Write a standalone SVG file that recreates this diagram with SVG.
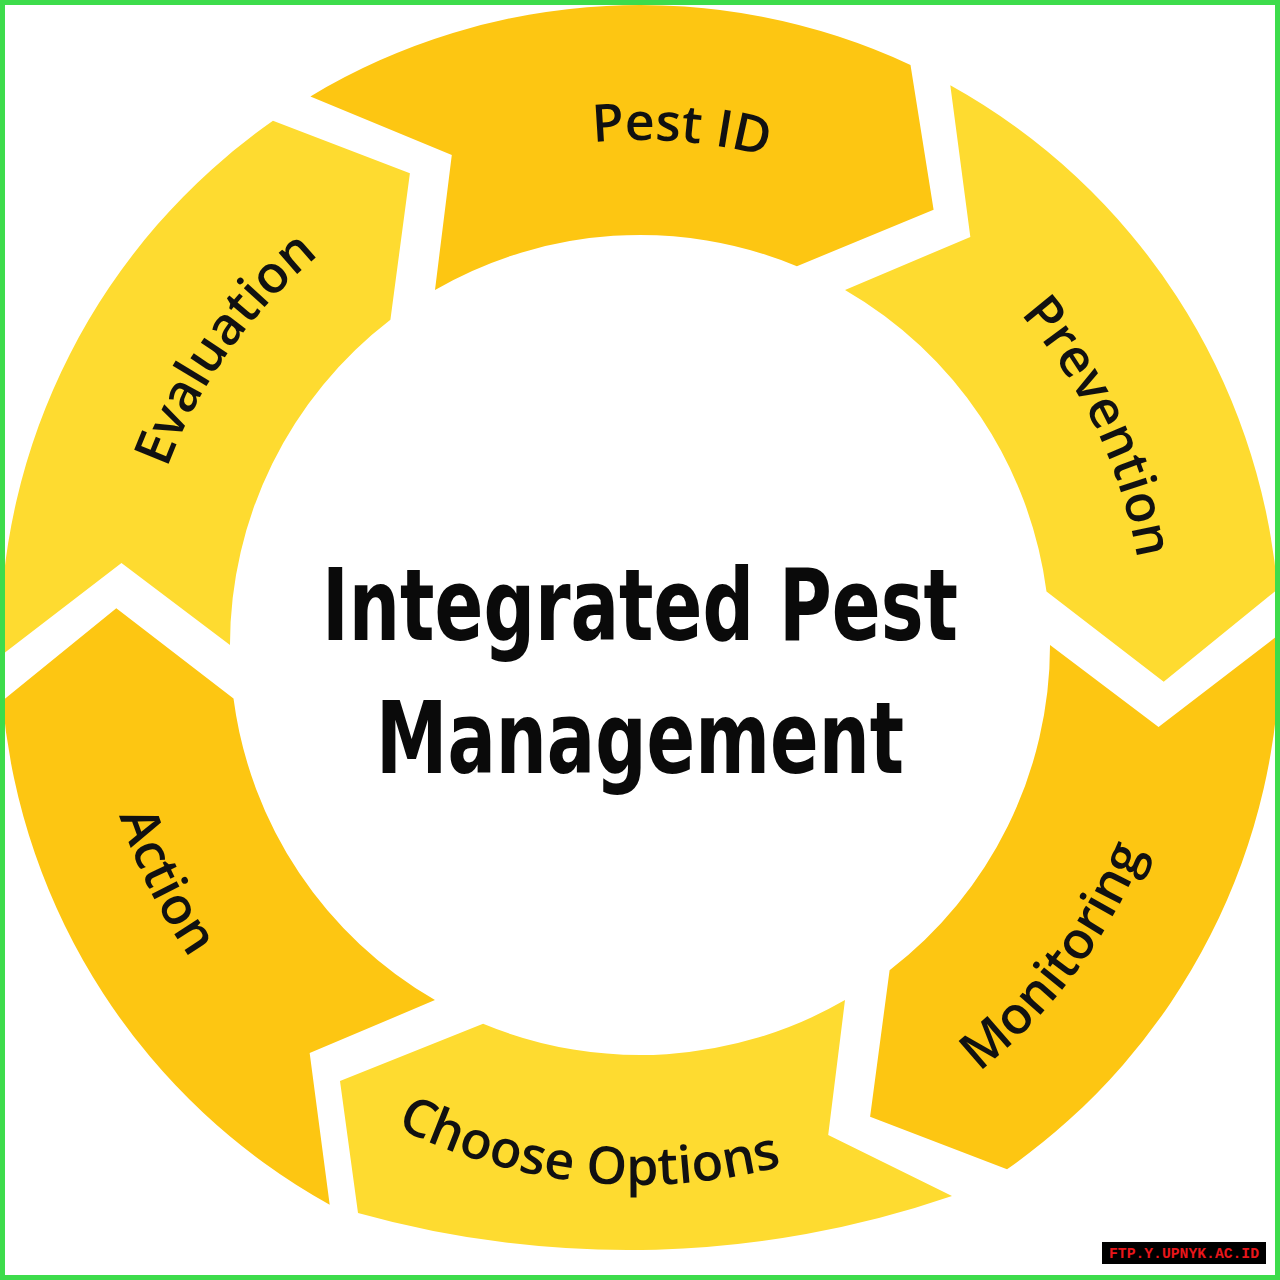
<svg xmlns="http://www.w3.org/2000/svg" xmlns:xlink="http://www.w3.org/1999/xlink" width="1280" height="1280" viewBox="0 0 1280 1280">
<style>
.dark{fill:#FDC612}
.light{fill:#FEDB30}
.lbl{font-family:"Open Sans","Liberation Sans",sans-serif;font-weight:600;font-size:52px;fill:#111}
.title{font-family:"DejaVu Sans","Liberation Sans",sans-serif;font-weight:bold;font-stretch:condensed;font-size:100px;fill:#0a0a0a}
.wm{font-family:"Liberation Mono","DejaVu Sans Mono",monospace;font-weight:bold;font-size:15px;fill:#e8161b}
</style>
<defs>
<path id="seg" d="M 310.4 96.4 A 640 640 0 0 1 910.5 65.0 L 933.6 209.8 L 796.9 266.2 A 410 410 0 0 0 435.0 289.9 L 451.8 154.9 Z"/>
<path id="tp-pest" d="M 347.5 233.4 A 505 505 0 0 1 994.6 285.4"/>
<path id="tp-prev" d="M 848.6 186.0 A 505 505 0 0 1 1128.5 773.2"/>
<path id="tp-eval" d="M 136.6 684.6 A 505 505 0 0 1 513.5 156.1"/>
<path id="tp-mon" d="M 763.5 1175.8 A 545 545 0 0 0 1184.2 615.5"/>
<path id="tp-choose" d="M 252.9 1021.5 A 540 540 0 0 0 943.5 1091.6"/>
<path id="tp-action" d="M 107.1 517.1 A 548 548 0 0 0 421.5 1147.6"/>
</defs>
<rect x="0" y="0" width="1280" height="1280" fill="#ffffff"/>
<g id="pest-id">
<use xlink:href="#seg" href="#seg" class="dark"/>
<text class="lbl"><textPath xlink:href="#tp-pest" href="#tp-pest" startOffset="50%" text-anchor="middle">Pest ID</textPath></text>
</g>
<g id="prevention">
<use xlink:href="#seg" href="#seg" class="light" transform="rotate(60 640 645)"/>
<text class="lbl"><textPath xlink:href="#tp-prev" href="#tp-prev" startOffset="50%" text-anchor="middle">Prevention</textPath></text>
</g>
<g id="monitoring">
<use xlink:href="#seg" href="#seg" class="dark" transform="rotate(120 640 645)"/>
<text class="lbl"><textPath xlink:href="#tp-mon" href="#tp-mon" startOffset="50%" text-anchor="middle">Monitoring</textPath></text>
</g>
<g id="choose-options">
<path class="light" d="M 952 1196 A 1000 1000 0 0 1 358 1213 L 340 1081 L 483.1 1023.8 A 410 410 0 0 0 845 1000.1 L 828.2 1135.1 Z"/>
<text class="lbl"><textPath xlink:href="#tp-choose" href="#tp-choose" startOffset="50%" text-anchor="middle">Choose Options</textPath></text>
</g>
<g id="action">
<use xlink:href="#seg" href="#seg" class="dark" transform="rotate(240 640 645)"/>
<text class="lbl"><textPath xlink:href="#tp-action" href="#tp-action" startOffset="50%" text-anchor="middle">Action</textPath></text>
</g>
<g id="evaluation">
<use xlink:href="#seg" href="#seg" class="light" transform="rotate(300 640 645)"/>
<text class="lbl"><textPath xlink:href="#tp-eval" href="#tp-eval" startOffset="50%" text-anchor="middle">Evaluation</textPath></text>
</g>
<g id="center-title">
<text class="title" x="640" y="640" text-anchor="middle" textLength="636" lengthAdjust="spacingAndGlyphs">Integrated Pest</text>
<text class="title" x="640" y="773" text-anchor="middle" textLength="528" lengthAdjust="spacingAndGlyphs">Management</text>
</g>
<g id="connectors"></g>
<g id="watermark">
<rect x="1102" y="1242" width="164" height="22" fill="#000000"/>
<text class="wm" x="1184" y="1258" text-anchor="middle" textLength="150" lengthAdjust="spacingAndGlyphs">FTP.Y.UPNYK.AC.ID</text>
</g>
<rect x="2.5" y="2.5" width="1275" height="1275" fill="none" stroke="#3DDC4B" stroke-width="5"/>
</svg>
